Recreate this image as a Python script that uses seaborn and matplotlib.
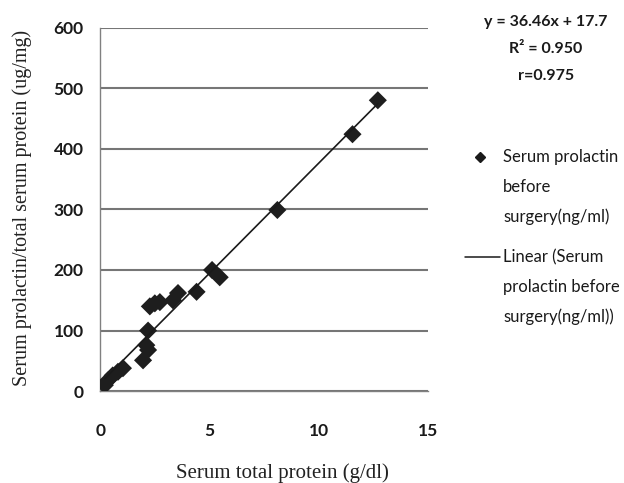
import matplotlib
matplotlib.use("Agg")
import matplotlib.pyplot as plt
from matplotlib.lines import Line2D
import seaborn as sns
import numpy as np
import pandas as pd

# Data
protein = [0.20, 0.35, 0.56, 0.80, 1.03, 1.95, 2.10, 2.18, 2.18, 2.26, 2.49, 2.72,
           3.32, 3.55, 4.40, 5.11, 5.46, 8.10, 11.54, 12.70]
prolactin = [10, 18, 26, 32, 38, 51, 76, 68, 100, 140, 145, 147,
             150, 162, 164, 200, 188, 299, 424, 480]
x_ticks = [0, 5, 10, 15]
y_ticks = [0, 100, 200, 300, 400, 500, 600]
equation_lines = ["y = 36.46x + 17.7", "R\u00b2 = 0.950", "r=0.975"]
legend_scatter_lines = ["Serum prolactin", "before", "surgery(ng/ml)"]
legend_fit_lines = ["Linear (Serum", "prolactin before", "surgery(ng/ml))"]
x_label = "Serum total protein (g/dl)"
y_label = "Serum prolactin/total serum protein (ug/mg)"

df = pd.DataFrame({"protein": protein, "prolactin": prolactin})

sns.set_style("white")
plt.rcParams["font.family"] = ["Lato", "DejaVu Sans"]

W, H = 624, 483
fig = plt.figure(figsize=(6.24, 4.83), dpi=100)
ax = fig.add_axes([0.161, 0.190, 0.525, 0.753])

sns.regplot(data=df, x="protein", y="prolactin", ax=ax, ci=None,
            marker="D",
            scatter_kws=dict(s=85, color="#1e1e1e", alpha=1, edgecolors="none", zorder=3),
            line_kws=dict(color="#1a1a1a", lw=1.2, zorder=4))

ax.set_xlim(0, 15)
ax.set_ylim(0, 600)
ax.set_xticks(x_ticks)
ax.set_yticks(y_ticks)
ax.yaxis.grid(True, color="#767676", lw=1.5)
ax.xaxis.grid(False)
ax.set_axisbelow(True)
for s in ["top", "right"]:
    ax.spines[s].set_visible(False)
for s in ["left", "bottom"]:
    ax.spines[s].set_color("#808080")
    ax.spines[s].set_linewidth(1.0)
ax.tick_params(axis="both", which="both", width=1.0, color="#808080",
               labelsize=12.5, labelcolor="#1a1a1a", direction="out")
ax.tick_params(axis="x", length=6, pad=17)
ax.tick_params(axis="y", length=4, pad=8)
for lab in ax.get_xticklabels() + ax.get_yticklabels():
    lab.set_fontweight("bold")

serif = ["Liberation Serif", "DejaVu Serif"]
ax.set_xlabel(x_label, family=serif, fontsize=15, color="#222222")
ax.xaxis.set_label_coords(0.556, -0.198)
ax.set_ylabel(y_label, family=serif, fontsize=14.5, color="#222222")
ax.yaxis.set_label_coords(-0.21, 0.505)

# Trendline equation text
for i, t in enumerate(equation_lines):
    fig.text(0.875, 1 - (22 + 27 * i) / H, t, ha="center", va="center",
             fontsize=11.5, fontweight="bold", color="#1a1a1a")

# Legend (drawn as figure artists for exact line spacing)
def fy(py):
    return 1 - py / H

fig.add_artist(Line2D([480 / W], [fy(157)], marker="D", ls="none",
                      color="#1a1a1a", markersize=5.5, transform=fig.transFigure))
fig.add_artist(Line2D([465 / W, 500 / W], [fy(257), fy(257)], color="#1a1a1a",
                      lw=1.1, transform=fig.transFigure))
for i, t in enumerate(legend_scatter_lines):
    fig.text(503 / W, fy(157 + 30 * i), t, ha="left", va="center",
             fontsize=12, color="#1a1a1a")
for i, t in enumerate(legend_fit_lines):
    fig.text(503 / W, fy(257 + 30 * i), t, ha="left", va="center",
             fontsize=12, color="#1a1a1a")

fig.savefig("out.png", dpi=100)
